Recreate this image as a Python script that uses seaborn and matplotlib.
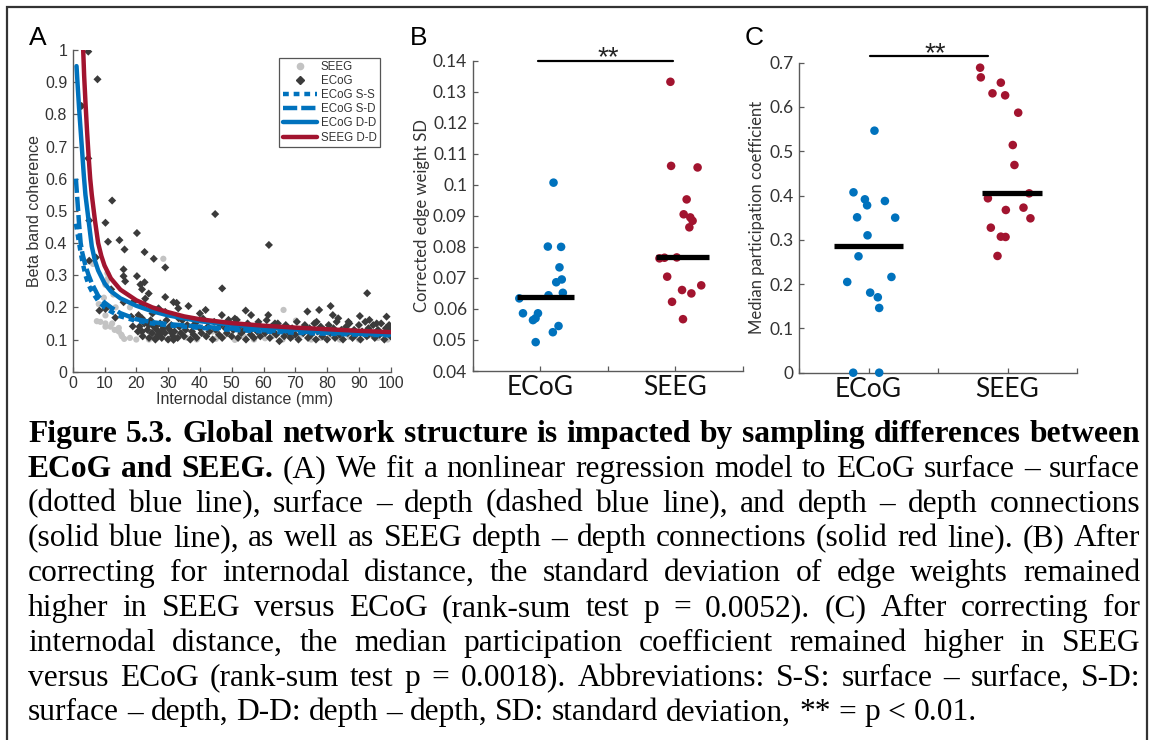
import numpy as np
import matplotlib
matplotlib.use('Agg')
import matplotlib.pyplot as plt
from matplotlib.lines import Line2D
from matplotlib.patches import Rectangle
from matplotlib.ticker import FuncFormatter
import seaborn as sns

sns.set_theme(style='ticks')
plt.rcParams['font.family'] = ['Liberation Sans', 'DejaVu Sans']

# ==== Panel A: coherence vs internodal distance ====
ecog_dist = [4.9, 7.8, 2.8, 4.9, 5.2, 12.4, 10.3, 11.1, 14.7, 16.3, 20.2, 22.6, 25.5, 29.1, 5.2, 7.3,
             16.0, 16.0, 16.5, 20.2, 21.3, 22.6, 12.1, 21.8, 23.9, 22.8, 29.1, 31.7, 8.4, 10.3, 16.0,
             19.2, 21.8, 13.4, 18.4, 20.7, 25.1, 27.0, 29.1, 18.9, 21.8, 23.9, 26.0, 28.1, 30.2, 33.3,
             21.8, 24.9, 28.1, 31.2, 26.0, 31.7,
             44.8, 61.7, 47.0, 92.6, 73.8, 77.5, 81.1, 83.5, 90.3, 98.7, 81.8, 86.7, 93.3, 76.7, 95.6,
             36.4, 41.8, 54.4, 56.1, 61.5, 32.7, 33.2, 40.0, 46.9, 49.0, 51.6, 58.4, 63.6,
             20.5, 21, 22, 22.5, 23.5, 24, 24.5, 25, 25.5, 26, 26.5, 27, 27.5, 28, 28.5, 29, 29.5, 30,
             30.5, 31, 31.5, 32, 33, 33.5, 34, 34.5, 35, 35.5, 36, 37, 37.5, 38, 38.5, 39, 40, 40.5,
             41, 42, 42.5, 43, 44, 44.5, 45, 46, 46.5, 47, 48, 48.5, 49, 50, 50.5, 51, 52, 52.5, 53,
             54, 54.5, 55, 56, 56.5, 57, 58, 58.5, 59, 60, 60.5, 61, 62, 62.5, 63, 64, 64.5, 65, 66,
             66.5, 67, 68, 68.5, 69, 70, 70.5, 71, 72, 72.5, 73, 74, 74.5, 75, 76, 76.5, 77, 78, 78.5,
             79, 80, 80.5, 81, 82, 82.5, 83, 84, 84.5, 85, 86, 86.5, 87, 88, 88.5, 89, 90, 90.5, 91,
             92, 92.5, 93, 94, 94.5, 95, 96, 96.5, 97, 98, 98.5, 99, 99.5, 100, 100]
ecog_coh = [0.995, 0.909, 0.826, 0.663, 0.47, 0.532, 0.463, 0.404, 0.409, 0.38, 0.431, 0.372, 0.351,
            0.324, 0.345, 0.355, 0.318, 0.297, 0.281, 0.297, 0.271, 0.278, 0.256, 0.256, 0.243, 0.227,
            0.232, 0.216, 0.19, 0.195, 0.216, 0.218, 0.206, 0.168, 0.171, 0.176, 0.181, 0.197, 0.186,
            0.141, 0.166, 0.145, 0.14, 0.145, 0.137, 0.166, 0.125, 0.12, 0.125, 0.12, 0.104, 0.099,
            0.49, 0.394, 0.259, 0.244, 0.187, 0.192, 0.204, 0.166, 0.173, 0.171, 0.176, 0.155, 0.161,
            0.155, 0.15, 0.204, 0.192, 0.19, 0.176, 0.176, 0.214, 0.197, 0.181, 0.176, 0.161, 0.161,
            0.155, 0.15,
            0.125, 0.14, 0.11, 0.15, 0.13, 0.105, 0.16, 0.12, 0.14, 0.1, 0.13, 0.115, 0.15, 0.105,
            0.135, 0.12, 0.16, 0.1, 0.13, 0.145, 0.11, 0.125, 0.105, 0.14, 0.12, 0.16, 0.11, 0.13,
            0.145, 0.1, 0.125, 0.115, 0.15, 0.105, 0.135, 0.12, 0.165, 0.11, 0.14, 0.125, 0.1, 0.155,
            0.13, 0.115, 0.145, 0.105, 0.135, 0.12, 0.15, 0.11, 0.13, 0.165, 0.105, 0.14, 0.12, 0.13,
            0.1, 0.15, 0.115, 0.135, 0.105, 0.125, 0.145, 0.11, 0.135, 0.12, 0.16, 0.105, 0.14, 0.125,
            0.115, 0.15, 0.095, 0.13, 0.11, 0.145, 0.12, 0.105, 0.135, 0.115, 0.155, 0.1, 0.13, 0.12,
            0.145, 0.105, 0.135, 0.115, 0.15, 0.1, 0.125, 0.14, 0.11, 0.13, 0.1, 0.145, 0.12, 0.135,
            0.105, 0.155, 0.115, 0.13, 0.1, 0.14, 0.12, 0.15, 0.105, 0.13, 0.115, 0.145, 0.1, 0.125,
            0.155, 0.11, 0.135, 0.12, 0.145, 0.105, 0.13, 0.115, 0.15, 0.1, 0.135, 0.12, 0.145, 0.11,
            0.13]

seeg_dist = [6.4, 28.5, 66.3, 70.2, 10.9, 10.7, 10.3, 11.1, 8.2, 9.8, 11.5, 10.3, 7.6, 10.3, 12.4,
             13.2, 14.5, 15.5, 10.3, 11.9, 8.7, 14.5, 15.3, 16.2, 21.3, 25.4, 51, 60.5, 13.5, 12.8, 18,
             18, 20, 22, 24, 27, 30, 33, 36, 39, 42, 45, 48, 54, 57, 63, 66, 69, 72, 75, 78, 81, 84,
             87, 90, 93, 96, 99, 100, 53, 44, 68, 86]
seeg_coh = [0.335, 0.351, 0.192, 0.159, 0.306, 0.28, 0.27, 0.29, 0.21, 0.23, 0.2, 0.175, 0.157, 0.15,
            0.15, 0.13, 0.136, 0.11, 0.14, 0.14, 0.155, 0.125, 0.115, 0.102, 0.12, 0.15, 0.099, 0.104,
            0.2, 0.24, 0.2,
            0.105, 0.1, 0.112, 0.1, 0.108, 0.1, 0.115, 0.105, 0.1, 0.11, 0.102, 0.115, 0.108, 0.1,
            0.112, 0.1, 0.108, 0.115, 0.1, 0.105, 0.112, 0.1, 0.108, 0.1, 0.112, 0.105, 0.1, 0.115,
            0.12, 0.125, 0.12, 0.122]

# fitted curves
ss_x = [1, 1.5, 2, 2.5, 3, 4, 5, 6, 8, 10, 12, 15, 20, 25, 30, 40, 50, 60, 70, 80, 90, 100]
ss_y = [0.46, 0.43, 0.40, 0.37, 0.345, 0.30, 0.27, 0.25, 0.22, 0.20, 0.187, 0.172, 0.158, 0.15,
        0.144, 0.136, 0.13, 0.125, 0.121, 0.118, 0.115, 0.113]
sd_x = [1, 1.5, 2, 2.5, 3, 4, 5, 6, 8, 10, 12, 15, 20, 25, 30, 40, 50, 60, 70, 80, 90, 100]
sd_y = [0.60, 0.53, 0.46, 0.40, 0.37, 0.33, 0.30, 0.275, 0.236, 0.215, 0.20, 0.182, 0.163, 0.154,
        0.148, 0.14, 0.134, 0.129, 0.125, 0.121, 0.118, 0.116]
dd_x = [1.2, 1.5, 2, 2.5, 3, 3.5, 4, 5, 6, 7, 8, 10, 12, 15, 20, 25, 30, 40, 50, 60, 70, 80, 90, 100]
dd_y = [0.95, 0.90, 0.82, 0.75, 0.68, 0.61, 0.55, 0.47, 0.39, 0.345, 0.315, 0.275, 0.25, 0.228,
        0.205, 0.188, 0.175, 0.157, 0.146, 0.138, 0.131, 0.125, 0.12, 0.116]
seeg_dd_x = [3.3, 3.6, 4, 4.5, 5, 5.5, 6, 7, 8, 9, 10, 12, 15, 20, 25, 30, 35, 40, 50, 60, 70, 80,
             90, 100]
seeg_dd_y = [1.0, 0.92, 0.84, 0.75, 0.67, 0.60, 0.55, 0.47, 0.40, 0.36, 0.33, 0.29, 0.255, 0.222,
             0.20, 0.185, 0.172, 0.163, 0.151, 0.143, 0.137, 0.132, 0.127, 0.123]

# ==== Panel B: corrected edge weight SD ====
b_ecog = [0.1007, 0.0801, 0.0800, 0.0734, 0.0686, 0.0695, 0.0652, 0.0644, 0.0634, 0.0586, 0.0586,
          0.0564, 0.0570, 0.0545, 0.0525, 0.0493]
b_ecog_jit = [0.098, 0.056, 0.154, 0.142, 0.118, 0.159, 0.167, 0.061, -0.155, -0.128, -0.017,
              -0.054, -0.035, 0.135, 0.093, -0.034]
b_seeg = [0.1332, 0.1061, 0.1056, 0.0953, 0.0905, 0.0895, 0.0884, 0.0863, 0.0763, 0.0765, 0.0766,
          0.0704, 0.0661, 0.0676, 0.0650, 0.0623, 0.0567]
b_seeg_jit = [-0.037, -0.032, 0.164, 0.083, 0.061, 0.110, 0.127, 0.103, -0.118, -0.081, 0.010,
              -0.061, 0.049, 0.191, 0.118, -0.025, 0.056]

# ==== Panel C: median participation coefficient ====
c_ecog = [0.5465, 0.4073, 0.3915, 0.378, 0.3877, 0.3509, 0.3501, 0.3102, 0.2628, 0.2162, 0.2049,
          0.1808, 0.1703, 0.1462, 0.0, 0.0]
c_ecog_jit = [0.043, -0.108, -0.026, -0.010, 0.118, -0.082, 0.192, -0.007, -0.072, 0.165, -0.153,
              0.012, 0.067, 0.077, -0.110, 0.077]
c_seeg = [0.6887, 0.6669, 0.6549, 0.6308, 0.6263, 0.5871, 0.5141, 0.469, 0.3938, 0.405, 0.3674,
          0.3727, 0.3486, 0.3275, 0.3072, 0.3065, 0.2636]
c_seeg_jit = [-0.197, -0.192, -0.048, -0.108, -0.017, 0.077, 0.038, 0.050, -0.141, 0.156, -0.012,
              0.115, 0.165, -0.120, -0.048, -0.014, -0.072]

groups = ['ECoG', 'SEEG']
BLUE = '#0072BD'
RED = '#A2142F'
AX_COL = '#5a5a5a'
TXT_COL = '#333333'
SANS1 = ['Liberation Sans', 'DejaVu Sans']
SANS2 = ['Lato', 'DejaVu Sans']
SERIF = ['Liberation Serif', 'DejaVu Serif']

W, H = 1154, 740
fig = plt.figure(figsize=(W / 100, H / 100), dpi=100)


def box(l, t, r, b):
    return [l / W, 1 - b / H, (r - l) / W, (b - t) / H]


fmt = FuncFormatter(lambda v, p: f'{round(v, 4):g}')


def style(ax, fam, size):
    sns.despine(ax=ax)
    for s in ['left', 'bottom']:
        ax.spines[s].set_color(AX_COL)
        ax.spines[s].set_linewidth(1.0)
    ax.tick_params(direction='in', length=3.5, width=0.9, color=AX_COL, labelcolor=TXT_COL,
                   labelsize=size)
    for lab in ax.get_xticklabels() + ax.get_yticklabels():
        lab.set_family(fam)


# ---- A ----
axA = fig.add_axes(box(72.7, 50, 390.7, 371.7))
sns.scatterplot(x=seeg_dist, y=seeg_coh, marker='o', s=20, color='#c3c3c3', edgecolor='none',
                ax=axA, zorder=2)
sns.scatterplot(x=ecog_dist, y=ecog_coh, marker='D', s=17, color='#3b3b3b', edgecolor='none',
                ax=axA, zorder=3)
for cx, cy, col, dash in [(ss_x, ss_y, BLUE, [1.3, 1.1]), (sd_x, sd_y, BLUE, [3.2, 0.9]),
                          (dd_x, dd_y, BLUE, None), (seeg_dd_x, seeg_dd_y, RED, None)]:
    sns.lineplot(x=cx, y=cy, color=col, linewidth=3.2, sort=False, estimator=None, ax=axA,
                 zorder=4)
    if dash:
        axA.lines[-1].set_dashes(dash)
axA.set_xlim(0, 100)
axA.set_ylim(0, 1)
axA.set_xticks(np.arange(0, 101, 10))
axA.set_yticks(np.arange(0, 1.01, 0.1))
axA.xaxis.set_major_formatter(fmt)
axA.yaxis.set_major_formatter(fmt)
style(axA, SANS1, 11.5)
axA.tick_params(axis='x', pad=3)
axA.tick_params(axis='y', pad=4)
axA.set_xlabel('Internodal distance (mm)', fontsize=11.5, color=TXT_COL)
axA.set_ylabel('Beta band coherence', fontsize=11.5, color=TXT_COL)
axA.xaxis.set_label_coords(0.54, -0.064)
axA.yaxis.set_label_coords(-0.097, 0.5)
handles = [Line2D([], [], marker='o', ls='none', color='#c3c3c3', markersize=4.5),
           Line2D([], [], marker='D', ls='none', color='#3b3b3b', markersize=4),
           Line2D([], [], color=BLUE, lw=3.2, dashes=[1.3, 1.1]),
           Line2D([], [], color=BLUE, lw=3.2, dashes=[3.2, 0.9]),
           Line2D([], [], color=BLUE, lw=3.2),
           Line2D([], [], color=RED, lw=3.2)]
leg = axA.legend(handles, ['SEEG', 'ECoG', 'ECoG S-S', 'ECoG S-D', 'ECoG D-D', 'SEEG D-D'],
                 loc='upper right', bbox_to_anchor=(0.966, 0.976), fontsize=8.3, frameon=True,
                 fancybox=False, edgecolor='#555555', framealpha=1, handlelength=3.0,
                 labelspacing=0.18, borderpad=0.3, handletextpad=0.3, borderaxespad=0)
leg.get_frame().set_linewidth(0.9)
for t in leg.get_texts():
    t.set_color(TXT_COL)


# ---- B and C ----
def strip_panel(ax, ecog, ecog_jit, seeg, seeg_jit, ylim, yticks, ylabel, med_ext, sig):
    sns.scatterplot(x=np.add(1, ecog_jit), y=ecog, color=BLUE, s=38, edgecolor='none', ax=ax,
                    zorder=3, clip_on=False)
    sns.scatterplot(x=np.add(2, seeg_jit), y=seeg, color=RED, s=38, edgecolor='none', ax=ax,
                    zorder=3, clip_on=False)
    for i, vals in enumerate([ecog, seeg]):
        m = np.median(vals)
        lo, hi = med_ext[i]
        ax.plot([i + 1 + lo, i + 1 + hi], [m, m], color='black', lw=3.8, solid_capstyle='butt',
                zorder=4)
    ax.set_xlim(0.5, 2.5)
    ax.set_ylim(*ylim)
    ax.set_xticks([0.5, 1, 1.5, 2, 2.5])
    ax.set_xticklabels(['', groups[0], '', groups[1], ''])
    ax.set_yticks(yticks)
    ax.yaxis.set_major_formatter(fmt)
    style(ax, SANS2, 12.5)
    ax.tick_params(axis='y', pad=4)
    ax.tick_params(axis='x', labelsize=19, labelcolor='#111111', pad=3)
    ax.set_ylabel(ylabel, fontsize=12, color=TXT_COL, family=SANS2)
    x0, x1, ybar, xs, ys = sig
    ax.plot([x0, x1], [ybar, ybar], color='black', lw=1.6, clip_on=False)
    ax.text(xs, ys, '**', ha='center', va='baseline', fontsize=20, color='#222222',
            family=SANS1)


axB = fig.add_axes(box(472.7, 60.7, 743, 371))
strip_panel(axB, b_ecog, b_ecog_jit, b_seeg, b_seeg_jit, (0.04, 0.14),
            np.arange(0.04, 0.1401, 0.01), 'Corrected edge weight SD',
            [(-0.17, 0.25), (-0.147, 0.245)], (0.983, 1.98, 0.14, 1.5, 0.13845))
axB.yaxis.set_label_coords(-0.158, 0.5)

axC = fig.add_axes(box(799, 62.7, 1077, 372.7))
strip_panel(axC, c_ecog, c_ecog_jit, c_seeg, c_seeg_jit, (0, 0.7),
            np.arange(0, 0.701, 0.1), 'Median participation coefficient',
            [(-0.245, 0.25), (-0.18, 0.247)], (1.01, 1.86, 0.716, 1.48, 0.7045))
axC.yaxis.set_label_coords(-0.122, 0.5)

# panel letters
for px, lab in [(29, 'A'), (410, 'B'), (745, 'C')]:
    fig.text(px / W, 1 - 45 / H, lab, fontsize=19, va='baseline', ha='left', color='black')

# outer frame
fig.patches.append(Rectangle((7 / W, -0.1), (1147 - 7) / W, 1.1 - 7 / H, fill=False,
                             edgecolor='#333333', lw=1.6, transform=fig.transFigure))

# ==== Caption (justified) ====
caption = [
    ([('Figure 5.3. Global network structure is impacted by sampling differences between', 'bold')], True),
    ([('ECoG and SEEG.', 'bold'),
      ('(A) We fit a nonlinear regression model to ECoG surface – surface', 'normal')], True),
    ([('(dotted blue line), surface – depth (dashed blue line), and depth – depth connections', 'normal')], True),
    ([('(solid blue line), as well as SEEG depth – depth connections (solid red line).  (B) After', 'normal')], True),
    ([('correcting for internodal distance, the standard deviation of edge weights remained', 'normal')], True),
    ([('higher in SEEG versus ECoG  (rank-sum test p = 0.0052). (C) After correcting for', 'normal')], True),
    ([('internodal distance, the median participation coefficient remained higher in SEEG', 'normal')], True),
    ([('versus ECoG (rank-sum test p = 0.0018). Abbreviations: S-S: surface – surface, S-D:', 'normal')], True),
    ([('surface – depth, D-D: depth – depth, SD: standard deviation, ** = p < 0.01.', 'normal')], False),
]

fig.canvas.draw()
rend = fig.canvas.get_renderer()


def text_w(s, wt, fs):
    t = fig.text(0, 0, s, fontsize=fs, family=SERIF, weight=wt)
    w = t.get_window_extent(rend).width
    t.remove()
    return w


left_px, right_px = 28, 1140
fs = 20 * (980 - left_px) / text_w(caption[-1][0][0][0], 'normal', 20)
space = text_w('a a', 'normal', fs) - text_w('aa', 'normal', fs)
base, pitch = 442, 34.8
for i, (parts, justify) in enumerate(caption):
    words = [(w, wt) for seg, wt in parts for w in seg.split()]
    widths = [text_w(w, wt, fs) for w, wt in words]
    gap = (right_px - left_px - sum(widths)) / (len(words) - 1) if justify else space
    x = left_px
    y = base + i * pitch
    for (w, wt), ww in zip(words, widths):
        fig.text(x / W, 1 - y / H, w, fontsize=fs, family=SERIF, weight=wt, va='baseline',
                 ha='left', color='black')
        x += ww + gap

fig.savefig('out.png', dpi=100)
